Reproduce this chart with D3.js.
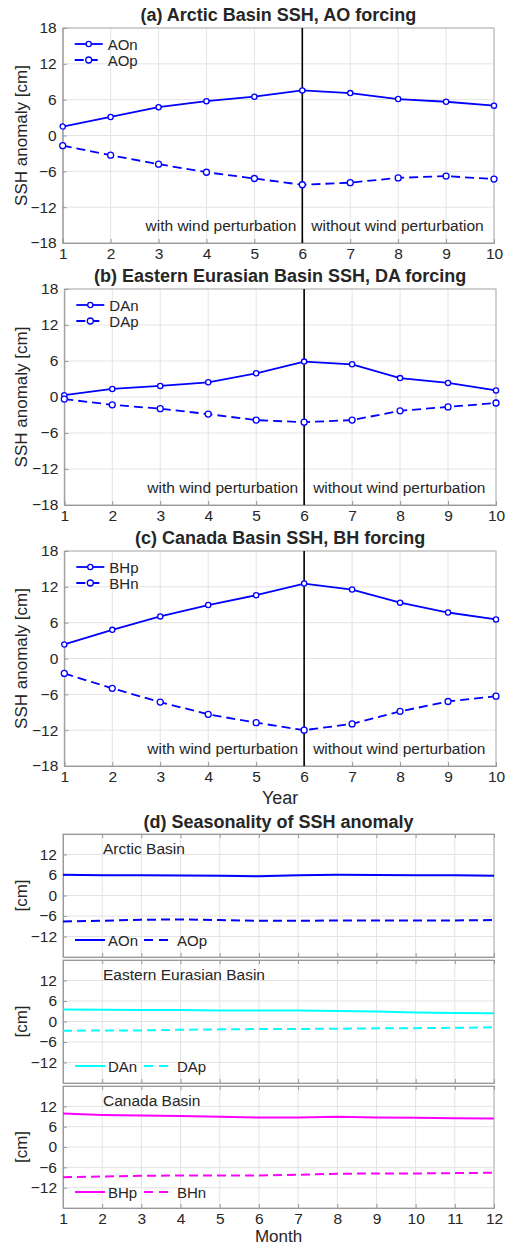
<!DOCTYPE html>
<html>
<head>
  <meta charset="utf-8">
  <title>SSH anomaly</title>
  <style>
    body { margin: 0; background: #fff; }
    svg text { font-family: "Liberation Sans", Arial, Helvetica, sans-serif; fill: #262626; }
    .axis text { font-size: 15.5px; fill: #262626; }
    .grid line { stroke: #e3e3e3; stroke-width: 1; }
  </style>
</head>
<body>
  <div class="chart"></div>
  <script src="https://cdn.jsdelivr.net/npm/d3@7/dist/d3.min.js"></script>
  <script>
    // yearly series (panels a-c)
    var years = [1, 2, 3, 4, 5, 6, 7, 8, 9, 10];
    var aoN = [1.5, 3.1, 4.75, 5.75, 6.5, 7.55, 7.1, 6.1, 5.65, 5.0];
    var aoP = [-1.7, -3.3, -4.8, -6.15, -7.2, -8.25, -7.9, -7.1, -6.8, -7.3];
    var daN = [0.3, 1.35, 1.85, 2.45, 3.95, 5.9, 5.45, 3.15, 2.35, 1.1];
    var daP = [-0.35, -1.3, -1.95, -2.85, -3.85, -4.2, -3.85, -2.3, -1.65, -1.0];
    var bhP = [2.35, 4.8, 7.05, 8.95, 10.6, 12.55, 11.55, 9.35, 7.7, 6.55];
    var bhN = [-2.5, -5.0, -7.3, -9.35, -10.75, -12.0, -10.95, -8.85, -7.2, -6.3];
    var yearTicks = [-18, -12, -6, 0, 6, 12, 18];

    // seasonal series (panel d)
    var months = [1, 2, 3, 4, 5, 6, 7, 8, 9, 10, 11, 12];
    var seasAOn = [6.1, 5.95, 5.9, 5.85, 5.75, 5.65, 5.9, 6.05, 6.0, 5.95, 5.9, 5.75];
    var seasAOp = [-7.6, -7.4, -7.1, -7.0, -7.2, -7.4, -7.4, -7.3, -7.3, -7.3, -7.3, -7.2];
    var seasDAn = [3.5, 3.45, 3.4, 3.35, 3.2, 3.2, 3.2, 3.1, 2.9, 2.6, 2.5, 2.4];
    var seasDAp = [-2.7, -2.65, -2.6, -2.4, -2.3, -2.2, -2.2, -2.1, -2.0, -1.95, -1.85, -1.7];
    var seasBHp = [9.85, 9.45, 9.3, 9.15, 8.9, 8.7, 8.7, 8.9, 8.7, 8.6, 8.5, 8.4];
    var seasBHn = [-8.9, -8.7, -8.5, -8.4, -8.4, -8.4, -8.2, -7.9, -7.8, -7.8, -7.7, -7.6];
    var seasTicks = [-12, -6, 0, 6, 12];

    var W = 507, H = 1247;
    var blue = '#0000ff';

    var svg = d3.select('.chart').append('svg')
      .attr('width', W)
      .attr('height', H);
    svg.append('rect').attr('width', W).attr('height', H).attr('fill', '#fff');

    function zip(xs, ys) {
      return xs.map(function (x, i) { return { x: x, y: ys[i] }; });
    }

    function drawBox(g, w, h) {
      g.append('rect')
        .attr('width', w).attr('height', h)
        .attr('fill', 'none')
        .attr('stroke', '#b0b0b0')
        .attr('stroke-width', 1);
    }

    function styleAxis(a) {
      a.select('.domain').attr('stroke', '#999');
      a.selectAll('line').attr('stroke', '#999');
    }

    function drawYearPanel(cfg) {
      var left = cfg.left, top = cfg.top, w = cfg.right - left, h = cfg.bottom - cfg.top;
      var g = svg.append('g').attr('transform', 'translate(' + left + ',' + top + ')');

      var x = d3.scaleLinear().domain([1, 10]).range([0, w]);
      var y = d3.scaleLinear().domain([-18, 18]).range([h, 0]);

      // grid
      var grid = g.append('g').attr('class', 'grid');
      grid.selectAll('.gx').data(years).enter().append('line')
        .attr('x1', function (d) { return x(d); }).attr('x2', function (d) { return x(d); })
        .attr('y1', 0).attr('y2', h);
      grid.selectAll('.gy').data(yearTicks).enter().append('line')
        .attr('y1', function (d) { return y(d); }).attr('y2', function (d) { return y(d); })
        .attr('x1', 0).attr('x2', w);

      drawBox(g, w, h);

      g.append('g').attr('class', 'axis')
        .call(d3.axisLeft(y).tickValues(yearTicks).tickSize(-4).tickPadding(6).tickFormat(d3.format('d')))
        .call(styleAxis);
      g.append('g').attr('class', 'axis')
        .attr('transform', 'translate(0,' + h + ')')
        .call(d3.axisBottom(x).tickValues(years).tickSize(-4).tickPadding(5).tickFormat(d3.format('d')))
        .call(styleAxis);

      // separator at year 6
      g.append('line')
        .attr('x1', x(6)).attr('x2', x(6))
        .attr('y1', 0).attr('y2', h)
        .attr('stroke', '#000').attr('stroke-width', 1.6);

      var line = d3.line().x(function (d) { return x(d.x); }).y(function (d) { return y(d.y); });

      cfg.series.forEach(function (s) {
        var pts = zip(years, s.values);
        g.append('path').datum(pts)
          .attr('d', line)
          .attr('fill', 'none')
          .attr('stroke', blue)
          .attr('stroke-width', 1.8)
          .attr('stroke-dasharray', s.dashed ? '9,5' : null);
        g.selectAll(null).data(pts).enter().append('circle')
          .attr('cx', function (d) { return x(d.x); })
          .attr('cy', function (d) { return y(d.y); })
          .attr('r', s.dashed ? 3 : 2.6)
          .attr('fill', '#fff')
          .attr('stroke', blue)
          .attr('stroke-width', 1.3);
      });

      // legend
      cfg.series.forEach(function (s, i) {
        var ly = 16 + i * 16;
        g.append('line')
          .attr('x1', 12).attr('x2', 40).attr('y1', ly).attr('y2', ly)
          .attr('stroke', blue).attr('stroke-width', 1.8)
          .attr('stroke-dasharray', s.dashed ? '9,5' : null);
        g.append('circle').attr('cx', 26).attr('cy', ly).attr('r', s.dashed ? 3 : 2.6)
          .attr('fill', '#fff').attr('stroke', blue).attr('stroke-width', 1.3);
        g.append('text').attr('x', 45).attr('y', ly + 5.5).attr('font-size', 15).text(s.name);
      });

      g.append('text').attr('x', x(6) - 6).attr('y', h - 12)
        .attr('text-anchor', 'end').attr('font-size', 15.5).text('with wind perturbation');
      g.append('text').attr('x', x(6) + 9).attr('y', h - 12)
        .attr('text-anchor', 'start').attr('font-size', 15.5).text('without wind perturbation');

      // title and labels
      g.append('text').attr('x', w / 2).attr('y', -7)
        .attr('text-anchor', 'middle').attr('font-size', 18).attr('font-weight', 'bold')
        .attr('fill', '#000').text(cfg.title);
      g.append('text')
        .attr('transform', 'translate(' + (27 - left) + ',' + (h / 2) + ') rotate(-90)')
        .attr('text-anchor', 'middle').attr('font-size', 17).text('SSH anomaly [cm]');
      if (cfg.xlabel) {
        g.append('text').attr('x', w / 2).attr('y', h + 38)
          .attr('text-anchor', 'middle').attr('font-size', 18).text(cfg.xlabel);
      }
    }

    drawYearPanel({
      left: 62.7, right: 494, top: 28, bottom: 243, title: '(a) Arctic Basin SSH, AO forcing',
      series: [{ name: 'AOn', values: aoN }, { name: 'AOp', values: aoP, dashed: true }]
    });
    drawYearPanel({
      left: 64.3, right: 496, top: 289, bottom: 505, title: '(b) Eastern Eurasian Basin SSH, DA forcing',
      series: [{ name: 'DAn', values: daN }, { name: 'DAp', values: daP, dashed: true }]
    });
    drawYearPanel({
      left: 64.3, right: 496, top: 551, bottom: 766, title: '(c) Canada Basin SSH, BH forcing', xlabel: 'Year',
      series: [{ name: 'BHp', values: bhP }, { name: 'BHn', values: bhN, dashed: true }]
    });

    // panel d: seasonality
    var dLeft = 63, dRight = 494;
    var dx = d3.scaleLinear().domain([1, 12]).range([0, dRight - dLeft]);

    function drawSeasonPanel(cfg) {
      var w = dRight - dLeft, h = cfg.bottom - cfg.top;
      var g = svg.append('g').attr('transform', 'translate(' + dLeft + ',' + cfg.top + ')');
      var y = d3.scaleLinear().domain([-18, 18]).range([h, 0]);

      var grid = g.append('g').attr('class', 'grid');
      grid.selectAll('.gx').data(months).enter().append('line')
        .attr('x1', function (d) { return dx(d); }).attr('x2', function (d) { return dx(d); })
        .attr('y1', 0).attr('y2', h);
      grid.selectAll('.gy').data(seasTicks).enter().append('line')
        .attr('y1', function (d) { return y(d); }).attr('y2', function (d) { return y(d); })
        .attr('x1', 0).attr('x2', w);

      drawBox(g, w, h);

      g.append('g').attr('class', 'axis')
        .call(d3.axisLeft(y).tickValues(seasTicks).tickSize(-4).tickPadding(6).tickFormat(d3.format('d')))
        .call(styleAxis);
      var xa = g.append('g').attr('class', 'axis')
        .attr('transform', 'translate(0,' + h + ')')
        .call(d3.axisBottom(dx).tickValues(months).tickSize(-4).tickPadding(5).tickFormat(d3.format('d')))
        .call(styleAxis);
      if (!cfg.showX) xa.selectAll('text').remove();
      // top ticks
      g.append('g').attr('class', 'axis')
        .call(d3.axisTop(dx).tickValues(months).tickSize(-4).tickFormat(''))
        .call(styleAxis);

      var line = d3.line().x(function (d) { return dx(d.x); }).y(function (d) { return y(d.y); });
      cfg.series.forEach(function (s) {
        g.append('path').datum(zip(months, s.values))
          .attr('d', line)
          .attr('fill', 'none')
          .attr('stroke', cfg.color)
          .attr('stroke-width', 2)
          .attr('stroke-dasharray', s.dashed ? '9,5' : null);
      });

      // legend
      var ly = 106;
      g.append('line').attr('x1', 12).attr('x2', 42).attr('y1', ly).attr('y2', ly)
        .attr('stroke', cfg.color).attr('stroke-width', 2);
      g.append('text').attr('x', 45).attr('y', ly + 5.5).attr('font-size', 15).text(cfg.series[0].name);
      g.append('line').attr('x1', 81).attr('x2', 106).attr('y1', ly).attr('y2', ly)
        .attr('stroke', cfg.color).attr('stroke-width', 2).attr('stroke-dasharray', '9,6');
      g.append('text').attr('x', 114).attr('y', ly + 5.5).attr('font-size', 15).text(cfg.series[1].name);

      g.append('text').attr('x', 40).attr('y', 19.5).attr('font-size', 15.5).text(cfg.label);
      g.append('text')
        .attr('transform', 'translate(' + (27 - dLeft) + ',' + (h / 2) + ') rotate(-90)')
        .attr('text-anchor', 'middle').attr('font-size', 17).text('[cm]');

      if (cfg.showX) {
        g.append('text').attr('x', w / 2).attr('y', h + 34)
          .attr('text-anchor', 'middle').attr('font-size', 17).text('Month');
      }
    }

    svg.append('text').attr('x', dLeft + (dRight - dLeft) / 2).attr('y', 828)
      .attr('text-anchor', 'middle').attr('font-size', 18).attr('font-weight', 'bold')
      .attr('fill', '#000').text('(d) Seasonality of SSH anomaly');

    drawSeasonPanel({
      top: 834, bottom: 957, color: '#0000ff', label: 'Arctic Basin',
      series: [{ name: 'AOn', values: seasAOn }, { name: 'AOp', values: seasAOp, dashed: true }]
    });
    drawSeasonPanel({
      top: 960, bottom: 1083, color: '#00ffff', label: 'Eastern Eurasian Basin',
      series: [{ name: 'DAn', values: seasDAn }, { name: 'DAp', values: seasDAp, dashed: true }]
    });
    drawSeasonPanel({
      top: 1086, bottom: 1208, color: '#ff00ff', label: 'Canada Basin', showX: true,
      series: [{ name: 'BHp', values: seasBHp }, { name: 'BHn', values: seasBHn, dashed: true }]
    });
  </script>
</body>
</html>
